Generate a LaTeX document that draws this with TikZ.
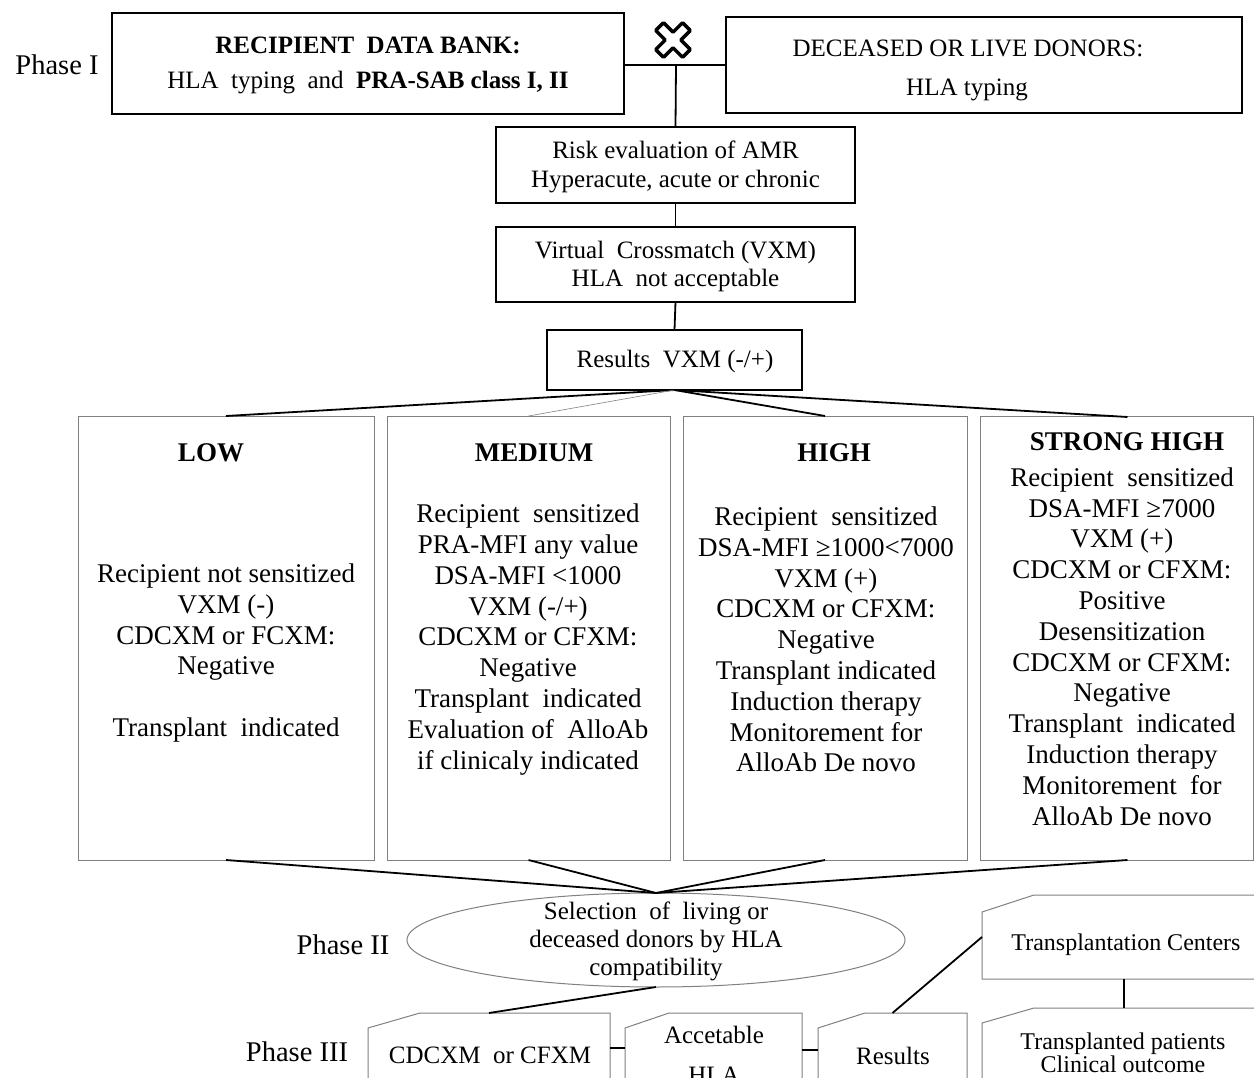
\documentclass[tikz,border=0pt]{standalone}
\usepackage{fontspec}
\setmainfont{Liberation Serif}
\usetikzlibrary{calc,shapes.geometric}
\begin{document}
\begin{tikzpicture}[x=1pt,y=-1pt,
  topbox/.style={draw=black, line width=1.6pt, inner sep=0pt, outer sep=0pt},
  bigbox/.style={draw=gray, line width=1pt, inner sep=0pt, outer sep=0pt},
  plain/.style={inner sep=0pt, outer sep=0pt},
  conn/.style={line width=1.8pt, black},
  thinconn/.style={line width=0.6pt, gray},
  snip/.style={draw=gray, line width=1pt},
  txt/.style={inner sep=0pt, align=center, font=\fontsize{25}{29}\selectfont},
  body/.style={inner sep=0pt, align=center, font=\fontsize{27}{30.8}\selectfont},
  ttl/.style={inner sep=0pt, font=\fontsize{27}{30}\selectfont\bfseries},
  phase/.style={inner sep=0pt, font=\fontsize{28.5}{32}\selectfont}
]
\useasboundingbox (0,0) rectangle (1254,1078);
\clip (0,0) rectangle (1254,1078);

% ---------- Phase I ----------
\node[phase] (ph1) at (57,65) {Phase I};
\node[topbox, minimum width=512, minimum height=101] (rec) at (368,63.5) {};
\node[txt, font=\fontsize{25}{28}\selectfont\bfseries] (rect1) at (368,45) {RECIPIENT\ \ DATA BANK:};
\node[txt, font=\fontsize{25}{28}\selectfont] (rect2) at (368,83) {HLA\ \ typing\ \ and\ \ \textbf{PRA-SAB class I, II}};

\node[topbox, minimum width=516, minimum height=96] (don) at (984,65) {};
\node[txt, font=\fontsize{25}{28}\selectfont] (dont1) at (968,48) {DECEASED OR LIVE DONORS:};
\node[txt, font=\fontsize{25}{28}\selectfont] (dont2) at (967,90) {HLA typing};

% cross symbol
\begin{scope}[shift={(673,40)}, rotate=45]
  \draw[line width=3.5pt, rounded corners=1pt, fill=white]
    (5.5,5.5) -- (19,5.5) -- (19,-5.5) -- (5.5,-5.5) -- (5.5,-19) -- (-5.5,-19) -- (-5.5,-5.5)
    -- (-19,-5.5) -- (-19,5.5) -- (-5.5,5.5) -- (-5.5,19) -- (5.5,19) -- cycle;
\end{scope}

\coordinate (j) at (676,65);
\draw[conn] (rec.east |- j) -- (don.west |- j);

\node[topbox, minimum width=359, minimum height=76] (risk) at (675.5,165) {};
\node[txt] (riskt) at (675.5,166.5) {Risk evaluation of AMR\\Hyperacute, acute or chronic};
\node[topbox, minimum width=359, minimum height=75] (vxm) at (675.5,264.5) {};
\node[txt, font=\fontsize{25}{28}\selectfont] (vxmt) at (675.5,266) {Virtual\ \ Crossmatch (VXM)\\HLA\ \ not acceptable};
\node[topbox, minimum width=255, minimum height=60] (res) at (674.5,360) {};
\node[txt] (rest) at (675,361) {Results\ \ VXM (-/+)};

\draw[conn] (j) -- (risk.north);
\draw[conn] (risk.south) -- (vxm.north);
\draw[conn] (vxm.south) -- (res.north);

% ---------- risk categories ----------
\node[bigbox, minimum width=296, minimum height=444] (low) at (226,638) {};
\node[bigbox, minimum width=283, minimum height=444] (med) at (528.5,638) {};
\node[bigbox, minimum width=284, minimum height=444] (high) at (825,638) {};
\node[bigbox, minimum width=273, minimum height=444] (strong) at (1116.5,638) {};

\draw[conn] (res.south) -- (low.north);
\draw[thinconn] (res.south) -- (med.north);
\draw[conn] (res.south) -- (high.north);
\draw[conn] (res.south) -- ($(strong.north)+(11,1)$);

\node[ttl] (lowt) at (211,453) {LOW};
\node[ttl] (medt) at (534,453) {MEDIUM};
\node[ttl] (hight) at (834,453) {HIGH};
\node[ttl] (strongt) at (1127,442) {STRONG HIGH};

\node[body] (lowb) at (226,653) {Recipient not sensitized\\VXM (-)\\CDCXM or FCXM:\\Negative\\[30.8pt]Transplant\ \ indicated};
\node[body] (medb) at (528,639.5) {Recipient\ \ sensitized\\PRA-MFI any value\\DSA-MFI <1000\\VXM (-/+)\\CDCXM or CFXM:\\Negative\\Transplant\ \ indicated\\Evaluation of\ \ AlloAb\\ if clinicaly indicated};
\node[body] (highb) at (826,639.5) {Recipient\ \ sensitized\\DSA-MFI ≥1000<7000\\VXM (+)\\CDCXM or CFXM:\\Negative\\Transplant indicated\\Induction therapy\\Monitorement for\\AlloAb De novo};
\node[body] (strongb) at (1122,646.5) {Recipient\ \ sensitized\\DSA-MFI ≥7000\\VXM (+)\\CDCXM or CFXM:\\Positive\\Desensitization\\CDCXM or CFXM:\\Negative\\Transplant\ \ indicated\\Induction therapy\\Monitorement\ \ for\\AlloAb De novo};

% ---------- Phase II ----------
\node[phase] (ph2) at (343,945) {Phase II};
\node[ellipse, draw=gray, line width=1pt, minimum width=498, minimum height=94, inner sep=0pt, outer sep=0pt] (sel) at (656,940) {};
\node[txt, font=\fontsize{25}{28}\selectfont] (selt) at (656,941) {Selection\ \ of\ \ living or\\deceased donors by HLA\\compatibility};

\draw[conn] (low.south) -- (sel.north);
\draw[conn] (med.south) -- (sel.north);
\draw[conn] (high.south) -- (sel.north);
\draw[conn] ($(strong.south)+(11,0)$) -- (sel.north);

% ---------- Phase III ----------
\node[phase] (ph3) at (297,1052) {Phase III};

\node[plain, minimum width=242, minimum height=70] (cdc) at (489,1048) {};
\node[plain, minimum width=177, minimum height=70] (acc) at (713.5,1048) {};
\node[plain, minimum width=149, minimum height=70] (res2) at (892.5,1048) {};
\node[plain, minimum width=278, minimum height=84] (tc) at (1121,937) {};
\node[plain, minimum width=278, minimum height=90] (tp) at (1121,1053) {};

\draw[snip] ($(cdc.north west)+(0,15)$) -- ($(cdc.north west)+(52,0)$) -- (cdc.north east) -- (cdc.south east) -- (cdc.south west) -- cycle;
\draw[snip] ($(acc.north west)+(0,15)$) -- ($(acc.north west)+(44,0)$) -- (acc.north east) -- (acc.south east) -- (acc.south west) -- cycle;
\draw[snip] ($(res2.north west)+(0,15)$) -- ($(res2.north west)+(47,0)$) -- (res2.north east) -- (res2.south east) -- (res2.south west) -- cycle;
\draw[snip] ($(tc.north west)+(0,17)$) -- ($(tc.north west)+(52,0)$) -- (tc.north east) -- (tc.south east) -- (tc.south west) -- cycle;
\draw[snip] ($(tp.north west)+(0,15)$) -- ($(tp.north west)+(52,0)$) -- (tp.north east) -- (tp.south east) -- (tp.south west) -- cycle;

\node[txt] (cdct) at (490,1055) {CDCXM\ \ or CFXM};
\node[txt] (acct1) at (714,1035) {Accetable};
\node[txt] (acct2) at (714,1075) {HLA};
\node[txt] (res2t) at (893,1056) {Results};
\node[txt, font=\fontsize{24}{28}\selectfont] (tct) at (1126,945) {Transplantation Centers};
\node[txt, font=\fontsize{24}{23.5}\selectfont] (tpt) at (1123,1053) {Transplanted patients\\Clinical outcome};

\draw[conn] (sel.south) -- (cdc.north);
\draw[conn] (cdc.east) -- (acc.west);
\draw[conn] ($(acc.east)+(0,2)$) -- ($(res2.west)+(0,2)$);
\draw[conn] (res2.north) -- (tc.west);
\draw[conn] ($(tc.south)+(3,0)$) -- ($(tp.north)+(3,0)$);
\end{tikzpicture}
\end{document}
